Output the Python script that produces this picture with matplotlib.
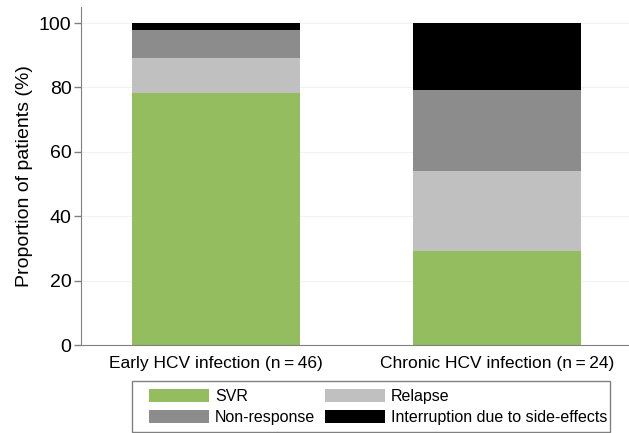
import numpy as np
import matplotlib
matplotlib.use("Agg")
from matplotlib import pyplot as plt
from matplotlib.patches import Patch, Rectangle

plt.rcParams["font.family"] = ["Liberation Sans", "DejaVu Sans"]

groups = ["Early HCV infection (n\u2009=\u200946)", "Chronic HCV infection (n\u2009=\u200924)"]
outcomes = ["SVR", "Relapse", "Non-response", "Interruption due to side-effects"]
colors = ["#93bd5f", "#c0c0c0", "#8c8c8c", "#000000"]

# percentages of patients per outcome
svr = [78.3, 29.2]
relapse = [10.9, 25.0]
non_response = [8.7, 25.0]
interruption = [2.2, 20.8]

W, H = 629, 433
fig = plt.figure(figsize=(W / 100, H / 100), dpi=100)
ax = fig.add_axes([0.129, 0.203, 0.871, 0.781])

x = np.arange(len(groups))
bottom = np.zeros(len(groups))
for vals, col in zip([svr, relapse, non_response, interruption], colors):
    ax.bar(x, vals, width=0.6, bottom=bottom, color=col, edgecolor="none", zorder=2)
    bottom += np.array(vals)

ax.set_xlim(-0.48, 1.47)
ax.set_ylim(0, 105)
ax.set_yticks([0, 20, 40, 60, 80, 100])
ax.set_xticks(x)
ax.set_xticklabels(groups, fontsize=12.5)
ax.tick_params(axis="y", labelsize=14, color="#808080", length=5, width=1, pad=2)
ax.tick_params(axis="x", length=0, pad=8)
ax.yaxis.grid(True, color="#f2f2f2", linewidth=0.8, zorder=0)
ax.set_axisbelow(True)
for s in ["top", "right"]:
    ax.spines[s].set_visible(False)
for s in ["left", "bottom"]:
    ax.spines[s].set_color("#808080")
ax.set_ylabel("Proportion of patients (%)", fontsize=14, labelpad=4)

# legend frame drawn by hand (wider padding on the left, like the original)
fig.patches.append(Rectangle((132 / W, 1 / H), 478 / W, 51 / H,
                             transform=fig.transFigure, facecolor="none",
                             edgecolor="#808080", linewidth=1))

handles = [Patch(facecolor=c, edgecolor="none") for c in colors]
order = [0, 2, 1, 3]
fig.legend([handles[i] for i in order], [outcomes[i] for i in order],
           loc="upper left", bbox_to_anchor=(149 / W, (H - 389) / H), ncol=2,
           fontsize=11.5, handlelength=3.75, handleheight=0.9,
           labelspacing=0.35, columnspacing=0.63, handletextpad=0.37,
           borderpad=0, borderaxespad=0, frameon=False)

fig.savefig("out.png", dpi=100)
